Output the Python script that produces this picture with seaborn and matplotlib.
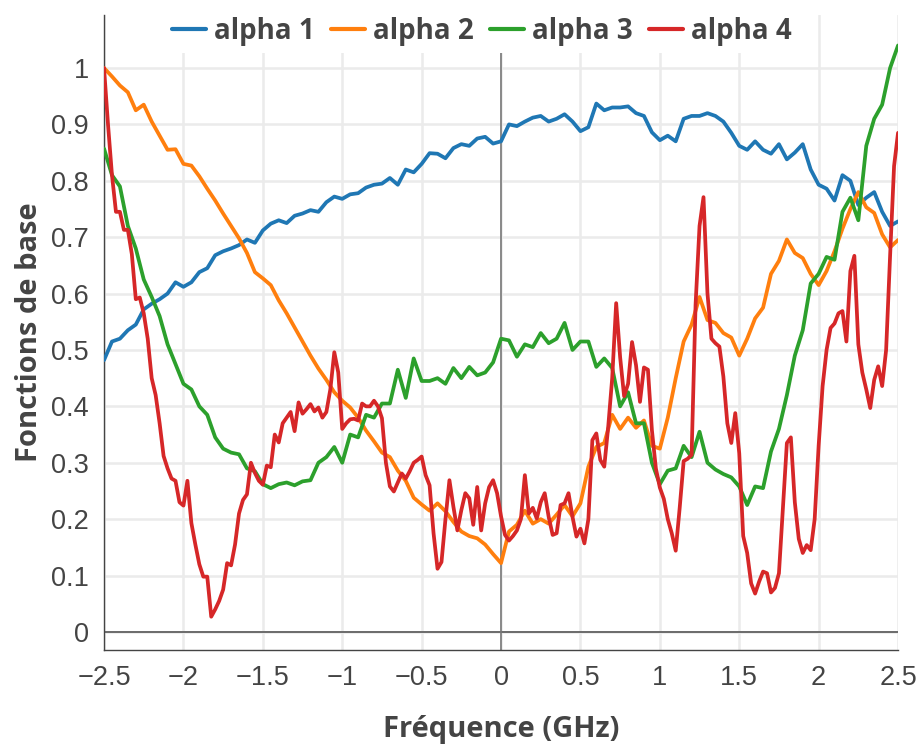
"""
Fonctions de base alpha 1..4 en fonction de la fréquence
"""

import numpy as np
import pandas as pd
import matplotlib
matplotlib.use("Agg")
import matplotlib.pyplot as plt
from matplotlib.lines import Line2D
from matplotlib.font_manager import FontProperties
import seaborn as sns

# noms et couleurs des séries
series_names = ["alpha 1", "alpha 2", "alpha 3", "alpha 4"]
series_colors = ["#1f77b4", "#ff7f0e", "#2ca02c", "#d62728"]

# alpha 1..3 : pas de 0.05 GHz, alpha 4 : pas de 0.025 GHz
freq_coarse = np.round(np.linspace(-2.5, 2.5, 101), 3)
freq_fine = np.round(np.linspace(-2.5, 2.5, 201), 4)

alpha1 = [
    0.482, 0.515, 0.520, 0.535, 0.545, 0.572, 0.582, 0.590, 0.600, 0.620,  # -2.5
    0.612, 0.620, 0.638, 0.645, 0.668, 0.675, 0.680, 0.686, 0.696, 0.690,  # -2.0
    0.712, 0.724, 0.730, 0.725, 0.738, 0.742, 0.748, 0.745, 0.762, 0.772,  # -1.5
    0.768, 0.776, 0.778, 0.788, 0.793, 0.795, 0.805, 0.793, 0.820, 0.815,  # -1.0
    0.830, 0.849, 0.848, 0.840, 0.858, 0.865, 0.862, 0.875, 0.878, 0.866,  # -0.5
    0.870, 0.900, 0.897, 0.905, 0.912, 0.915, 0.905, 0.910, 0.918, 0.905,  # 0.0
    0.888, 0.895, 0.937, 0.925, 0.930, 0.930, 0.932, 0.920, 0.915, 0.886,  # 0.5
    0.872, 0.880, 0.870, 0.910, 0.915, 0.915, 0.920, 0.915, 0.905, 0.885,  # 1.0
    0.862, 0.855, 0.870, 0.855, 0.848, 0.865, 0.838, 0.850, 0.865, 0.820,  # 1.5
    0.793, 0.786, 0.765, 0.810, 0.800, 0.757, 0.770, 0.780, 0.745, 0.720,  # 2.0
    0.728,
]

alpha2 = [
    1.000, 0.985, 0.969, 0.957, 0.925, 0.935, 0.905, 0.880, 0.855, 0.856,  # -2.5
    0.830, 0.827, 0.808, 0.786, 0.765, 0.742, 0.720, 0.698, 0.672, 0.638,  # -2.0
    0.627, 0.615, 0.588, 0.565, 0.540, 0.515, 0.490, 0.467, 0.447, 0.425,  # -1.5
    0.410, 0.398, 0.380, 0.357, 0.338, 0.318, 0.310, 0.286, 0.268, 0.238,  # -1.0
    0.226, 0.215, 0.228, 0.214, 0.195, 0.178, 0.170, 0.166, 0.155, 0.138,  # -0.5
    0.122, 0.178, 0.190, 0.215, 0.192, 0.200, 0.192, 0.208, 0.225, 0.205,  # 0.0
    0.228, 0.293, 0.328, 0.335, 0.385, 0.360, 0.380, 0.362, 0.375, 0.330,  # 0.5
    0.325, 0.380, 0.450, 0.515, 0.545, 0.594, 0.553, 0.548, 0.530, 0.522,  # 1.0
    0.490, 0.520, 0.556, 0.575, 0.635, 0.658, 0.696, 0.672, 0.663, 0.635,  # 1.5
    0.615, 0.640, 0.675, 0.715, 0.750, 0.780, 0.753, 0.743, 0.705, 0.682,  # 2.0
    0.695,
]

alpha3 = [
    0.857, 0.810, 0.790, 0.720, 0.680, 0.625, 0.594, 0.560, 0.510, 0.475,  # -2.5
    0.440, 0.430, 0.400, 0.385, 0.345, 0.325, 0.318, 0.315, 0.290, 0.285,  # -2.0
    0.262, 0.255, 0.262, 0.265, 0.260, 0.267, 0.269, 0.300, 0.310, 0.328,  # -1.5
    0.300, 0.350, 0.345, 0.385, 0.380, 0.405, 0.405, 0.465, 0.415, 0.485,  # -1.0
    0.445, 0.445, 0.450, 0.440, 0.468, 0.450, 0.470, 0.455, 0.460, 0.478,  # -0.5
    0.520, 0.517, 0.488, 0.510, 0.505, 0.530, 0.512, 0.520, 0.548, 0.500,  # 0.0
    0.515, 0.515, 0.470, 0.485, 0.468, 0.400, 0.425, 0.370, 0.370, 0.300,  # 0.5
    0.262, 0.286, 0.290, 0.330, 0.310, 0.355, 0.300, 0.288, 0.280, 0.274,  # 1.0
    0.258, 0.225, 0.258, 0.255, 0.320, 0.360, 0.420, 0.490, 0.535, 0.618,  # 1.5
    0.635, 0.665, 0.660, 0.745, 0.770, 0.730, 0.862, 0.910, 0.935, 1.000,  # 2.0
    1.040,
]

alpha4 = [
    1.000, 0.900, 0.810, 0.745, 0.745, 0.713, 0.713, 0.670, 0.590, 0.593,  # -2.5
    0.565, 0.520, 0.450, 0.420, 0.370, 0.312, 0.290, 0.272, 0.268, 0.230,  # -2.25
    0.224, 0.268, 0.193, 0.155, 0.120, 0.098, 0.098, 0.027, 0.040, 0.055,  # -2.0
    0.075, 0.122, 0.118, 0.155, 0.210, 0.234, 0.244, 0.300, 0.282, 0.268,  # -1.75
    0.261, 0.295, 0.292, 0.350, 0.336, 0.370, 0.380, 0.390, 0.356, 0.407,  # -1.5
    0.387, 0.395, 0.404, 0.391, 0.398, 0.380, 0.390, 0.430, 0.496, 0.460,  # -1.25
    0.360, 0.370, 0.377, 0.378, 0.375, 0.405, 0.400, 0.400, 0.410, 0.400,  # -1.0
    0.379, 0.300, 0.258, 0.249, 0.265, 0.281, 0.272, 0.285, 0.300, 0.305,  # -0.75
    0.311, 0.278, 0.260, 0.175, 0.112, 0.124, 0.200, 0.269, 0.222, 0.180,  # -0.5
    0.216, 0.246, 0.237, 0.190, 0.257, 0.180, 0.228, 0.257, 0.269, 0.246,  # -0.25
    0.205, 0.172, 0.162, 0.170, 0.180, 0.200, 0.278, 0.210, 0.220, 0.201,  # 0.0
    0.230, 0.246, 0.204, 0.172, 0.175, 0.225, 0.228, 0.246, 0.204, 0.169,  # 0.25
    0.183, 0.157, 0.200, 0.340, 0.352, 0.305, 0.293, 0.364, 0.450, 0.583,  # 0.5
    0.487, 0.418, 0.440, 0.514, 0.473, 0.408, 0.469, 0.465, 0.358, 0.290,  # 0.75
    0.256, 0.236, 0.200, 0.175, 0.144, 0.220, 0.303, 0.307, 0.314, 0.580,  # 1.0
    0.720, 0.771, 0.600, 0.520, 0.512, 0.506, 0.453, 0.370, 0.335, 0.388,  # 1.25
    0.317, 0.170, 0.140, 0.086, 0.068, 0.089, 0.107, 0.104, 0.070, 0.078,  # 1.5
    0.104, 0.220, 0.335, 0.345, 0.230, 0.165, 0.140, 0.154, 0.145, 0.200,  # 1.75
    0.330, 0.436, 0.500, 0.539, 0.547, 0.565, 0.569, 0.515, 0.640, 0.667,  # 2.0
    0.510, 0.460, 0.430, 0.397, 0.447, 0.471, 0.436, 0.500, 0.667, 0.826,  # 2.25
    0.885,
]

x_ticks = [-2.5, -2, -1.5, -1, -0.5, 0, 0.5, 1, 1.5, 2, 2.5]
x_tick_labels = ["\u22122.5", "\u22122", "\u22121.5", "\u22121", "\u22120.5",
                 "0", "0.5", "1", "1.5", "2", "2.5"]
y_ticks = [0, 0.1, 0.2, 0.3, 0.4, 0.5, 0.6, 0.7, 0.8, 0.9, 1]
y_tick_labels = ["0", "0.1", "0.2", "0.3", "0.4", "0.5",
                 "0.6", "0.7", "0.8", "0.9", "1"]

TEXT = "#444444"


def build_frame():
    frames = []
    for name, freq, vals in zip(series_names,
                                [freq_coarse, freq_coarse, freq_coarse, freq_fine],
                                [alpha1, alpha2, alpha3, alpha4]):
        assert len(freq) == len(vals), name
        frames.append(pd.DataFrame({"freq": freq, "val": vals, "serie": name}))
    return pd.concat(frames, ignore_index=True)


def main():
    df = build_frame()

    sns.set_style("white")
    fig = plt.figure(figsize=(9.24, 7.47), dpi=100)
    ax = fig.add_axes([0.1126, 0.1299, 0.8593, 0.85])

    sns.lineplot(data=df, x="freq", y="val", hue="serie",
                 hue_order=series_names, palette=series_colors,
                 estimator=None, sort=False, linewidth=2.7,
                 legend=False, ax=ax, zorder=3)

    ax.set_xlim(-2.5, 2.5)
    ax.set_ylim(-0.032, 1.094)
    ax.set_xticks(x_ticks)
    ax.set_yticks(y_ticks)
    tick_font = FontProperties(family=["Liberation Sans", "DejaVu Sans"], size=19.5)
    ax.set_xticklabels(x_tick_labels, fontproperties=tick_font, color=TEXT)
    ax.set_yticklabels(y_tick_labels, fontproperties=tick_font, color=TEXT)
    ax.tick_params(axis="both", length=5, width=1, color=TEXT, pad=6)

    ax.grid(True, color="#ebebeb", linewidth=1.8)
    ax.set_axisbelow(True)
    ax.axhline(0, color="#555555", linewidth=1.2, zorder=2)
    ax.axvline(0, color="#777777", linewidth=1.2, zorder=2)

    for side in ["top", "right"]:
        ax.spines[side].set_visible(False)
    for side in ["left", "bottom"]:
        ax.spines[side].set_color(TEXT)
        ax.spines[side].set_linewidth(1)

    label_font = FontProperties(family=["Open Sans", "DejaVu Sans"],
                                weight="bold", size=21)
    ax.set_xlabel("Fréquence (GHz)", fontproperties=label_font,
                  color=TEXT, labelpad=17)
    ax.set_ylabel("Fonctions de base", fontproperties=label_font,
                  color=TEXT, labelpad=5)

    handles = [Line2D([0], [0], color=c, linewidth=3) for c in series_colors]
    leg = ax.legend(handles, series_names, ncol=4, loc="upper center",
                    bbox_to_anchor=(0.476, 1.008), frameon=True,
                    facecolor="white", edgecolor="none", framealpha=1,
                    prop=FontProperties(family=["Open Sans", "DejaVu Sans"],
                                        weight="bold", size=20),
                    handlelength=1.2, handletextpad=0.3, columnspacing=0.6,
                    borderpad=0.25, borderaxespad=0.0)
    for t in leg.get_texts():
        t.set_color(TEXT)

    fig.savefig("out.png", dpi=100)
    plt.close(fig)


if __name__ == "__main__":
    main()
